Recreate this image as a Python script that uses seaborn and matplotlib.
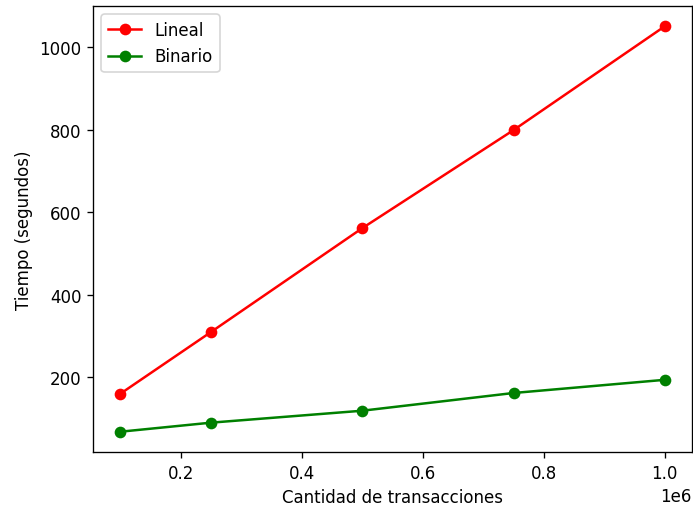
import matplotlib
matplotlib.use("Agg")
import matplotlib.pyplot as plt
import seaborn as sns
import pandas as pd

transacciones = [100000, 250000, 500000, 750000, 1000000]
lineal = [159, 309, 561, 799, 1051]
binario = [67, 89, 118, 161, 193]

df = pd.DataFrame({
    "x": transacciones * 2,
    "y": lineal + binario,
    "serie": ["Lineal"] * 5 + ["Binario"] * 5,
})

DPI = 120
fig = plt.figure(figsize=(693 / DPI, 509 / DPI), dpi=DPI)
ax = fig.add_axes([93/693, 1 - 453/509, 599/693, (453-7)/509])
sns.lineplot(data=df, x="x", y="y", hue="serie", palette={"Lineal": "red", "Binario": "green"},
             marker="o", markersize=6, ax=ax, linewidth=1.5)
for ln in ax.get_lines():
    ln.set_markeredgecolor(ln.get_color())
    ln.set_markeredgewidth(1.0)
ax.set_xlabel("Cantidad de transacciones")
ax.set_ylabel("Tiempo (segundos)")
leg = ax.legend(loc="upper left", title=None)
for ln in leg.get_lines():
    ln.set_markeredgecolor(ln.get_color())
    ln.set_markeredgewidth(1.0)
fig.savefig("out.png", dpi=DPI)
